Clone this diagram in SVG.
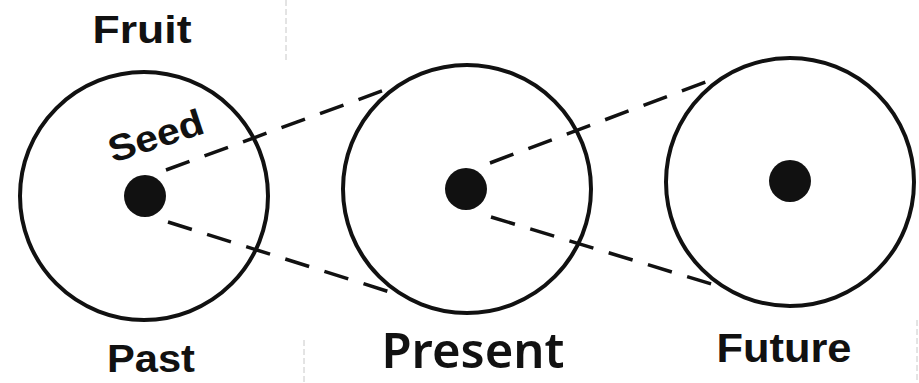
<svg xmlns="http://www.w3.org/2000/svg" width="919" height="383" viewBox="0 0 919 383">
<style>
.ring{fill:none;stroke:#111;stroke-width:4}
.dot{fill:#111}
.dash{fill:none;stroke:#111;stroke-width:3.5;stroke-dasharray:25 16}
.lbl{font-family:"Liberation Sans",Arial,sans-serif;font-weight:bold;fill:#111}
.pres{font-family:"Noto Sans","Open Sans",sans-serif;font-weight:600;fill:#111}
.faint{stroke:#c8c8c8;stroke-width:1;stroke-dasharray:6 3}
</style>
<rect width="919" height="383" fill="#fff"/>
<g id="artifacts">
<line class="faint" x1="286" y1="0" x2="286" y2="63"/>
<line class="faint" x1="304" y1="340" x2="304" y2="383"/>
<line class="faint" x1="917" y1="320" x2="917" y2="383"/>
</g>
<g id="connectors">
<line class="dash" x1="166" y1="170" x2="390" y2="88"/>
<line class="dash" x1="168" y1="222" x2="393" y2="293"/>
<line class="dash" x1="490" y1="163" x2="711" y2="80"/>
<line class="dash" x1="491" y1="217" x2="718" y2="286"/>
</g>
<g id="past">
<circle class="ring" cx="144" cy="196" r="124"/>
<circle class="dot" cx="145" cy="196" r="21"/>
<text class="lbl" x="142" y="43" font-size="39" text-anchor="middle" textLength="99" lengthAdjust="spacingAndGlyphs">Fruit</text>
<text class="lbl" x="0" y="0" font-size="37" transform="translate(113,163) rotate(-18)" textLength="98" lengthAdjust="spacingAndGlyphs">Seed</text>
<text class="lbl" x="151" y="372" font-size="39" text-anchor="middle" textLength="88" lengthAdjust="spacingAndGlyphs">Past</text>
</g>
<g id="present">
<circle class="ring" cx="467" cy="189" r="124"/>
<circle class="dot" cx="466" cy="189" r="21"/>
<text class="pres" x="473" y="368" font-size="48" text-anchor="middle" textLength="183" lengthAdjust="spacingAndGlyphs">Present</text>
</g>
<g id="future">
<circle class="ring" cx="790" cy="182" r="124"/>
<circle class="dot" cx="790" cy="181" r="21"/>
<text class="lbl" x="784" y="362" font-size="41" text-anchor="middle" textLength="135" lengthAdjust="spacingAndGlyphs">Future</text>
</g>
</svg>
